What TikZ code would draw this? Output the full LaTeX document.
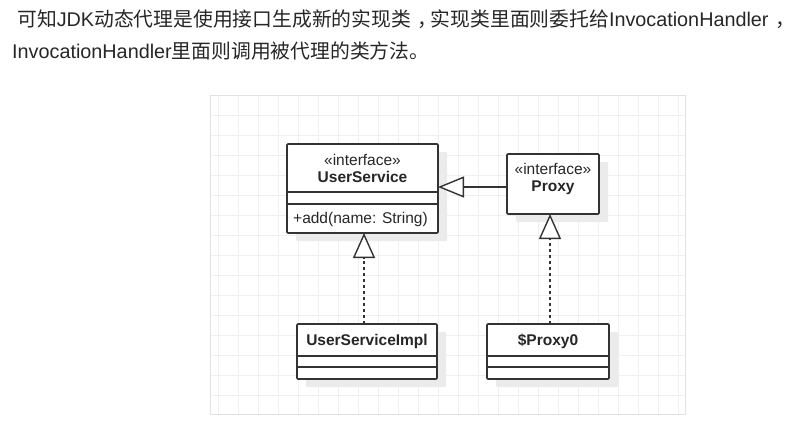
\documentclass[tikz,border=0pt]{standalone}
\usepackage{fontspec}
\setmainfont{Liberation Sans}
\newfontfamily\cjk{Noto Sans CJK SC}
\usetikzlibrary{arrows.meta,shadows}

\definecolor{inkgrey}{HTML}{333333}
\definecolor{gridgrey}{HTML}{EFEFEF}
\definecolor{framegrey}{HTML}{E2E2E2}
\definecolor{shadowgrey}{HTML}{EBEBEB}

\newcommand\zhcomma{\hspace{0.35em}\rlap{\cjk ，}\hspace{0.65em}}

\tikzset{
  umlbox/.style={rectangle,draw=inkgrey,line width=1.6pt,fill=white,rounded corners=1pt,
    inner sep=0pt,outer sep=0pt,
    general shadow={fill=shadowgrey,shadow xshift=9pt,shadow yshift=-8pt}},
  divider/.style={draw=inkgrey,line width=1.4pt},
  umltext/.style={anchor=base,inner sep=0pt,text=black!85,font=\fontsize{15.5}{18}\selectfont},
  realize/.style={draw=inkgrey,line width=1.4pt,dash pattern=on 3.5pt off 2.5pt,
    -{Triangle[open,width=22pt,length=25pt,line width=1.4pt,fill=white]}},
  inherit/.style={draw=inkgrey,line width=1.4pt,
    -{Triangle[open,width=21pt,length=26pt,line width=1.4pt,fill=white]}},
  gridline/.style={draw=gridgrey,line width=0.8pt},
  remark/.style={anchor=base west,inner sep=0pt,text=black!85,font=\fontsize{19.8}{22}\selectfont}
}

\begin{document}
\begin{tikzpicture}[x=1pt,y=-1pt]
\useasboundingbox (0,0) rectangle (799,428);

\node[remark] (line1) at (17,27) {{\cjk 可知}JDK{\cjk 动态代理是使用接口生成新的实现类}\zhcomma{\cjk 实现类里面则委托给}InvocationHandler\zhcomma};
\node[remark] (line2) at (12,58) {InvocationHandler{\cjk 里面则调用被代理的类方法。}};

\foreach \gx in {218,238,...,678} \draw[gridline] (\gx,95) -- (\gx,414);
\foreach \gy in {115,135,...,395} \draw[gridline] (210,\gy) -- (685,\gy);
\draw[framegrey,line width=0.8pt] (210,95) rectangle (685,414);

\node[umlbox,minimum width=151pt,minimum height=89pt] (us) at (362.5,188.5) {};
\node[umlbox,minimum width=92pt,minimum height=60pt] (proxy) at (553,184) {};
\node[umlbox,minimum width=140pt,minimum height=55pt] (impl) at (367,351.5) {};
\node[umlbox,minimum width=122pt,minimum height=55pt] (p0) at (548,351.5) {};

\draw[divider] ([yshift=-48pt]us.north west) -- ([yshift=-48pt]us.north east);
\draw[divider] ([yshift=-60pt]us.north west) -- ([yshift=-60pt]us.north east);
\draw[divider] ([yshift=-32pt]impl.north west) -- ([yshift=-32pt]impl.north east);
\draw[divider] ([yshift=-43pt]impl.north west) -- ([yshift=-43pt]impl.north east);
\draw[divider] ([yshift=-32pt]p0.north west) -- ([yshift=-32pt]p0.north east);
\draw[divider] ([yshift=-43pt]p0.north west) -- ([yshift=-43pt]p0.north east);

\node[umltext] (usster) at (362.5,165) {«interface»};
\node[umltext,font=\fontsize{15.5}{18}\selectfont\bfseries] (usname) at (362.5,182) {UserService};
\node[umltext,anchor=base west] (usop) at (293,223) {+add(name: String)};
\node[umltext] (proxyster) at (553,174) {«interface»};
\node[umltext,font=\fontsize{15.5}{18}\selectfont\bfseries] (proxyname) at (553,191) {Proxy};
\node[umltext,font=\fontsize{15.5}{18}\selectfont\bfseries] (implname) at (367,345) {UserServiceImpl};
\node[umltext,font=\fontsize{15.5}{18}\selectfont\bfseries] (p0name) at (548,345) {\$Proxy0};

\draw[inherit] ([yshift=-3pt]proxy.west) -- ([yshift=1.5pt]us.east);
\draw[realize] ([xshift=-3pt]impl.north) -- ([xshift=1.5pt]us.south);
\draw[realize] ([xshift=2pt]p0.north) -- ([xshift=-3pt]proxy.south);
\end{tikzpicture}
\end{document}
